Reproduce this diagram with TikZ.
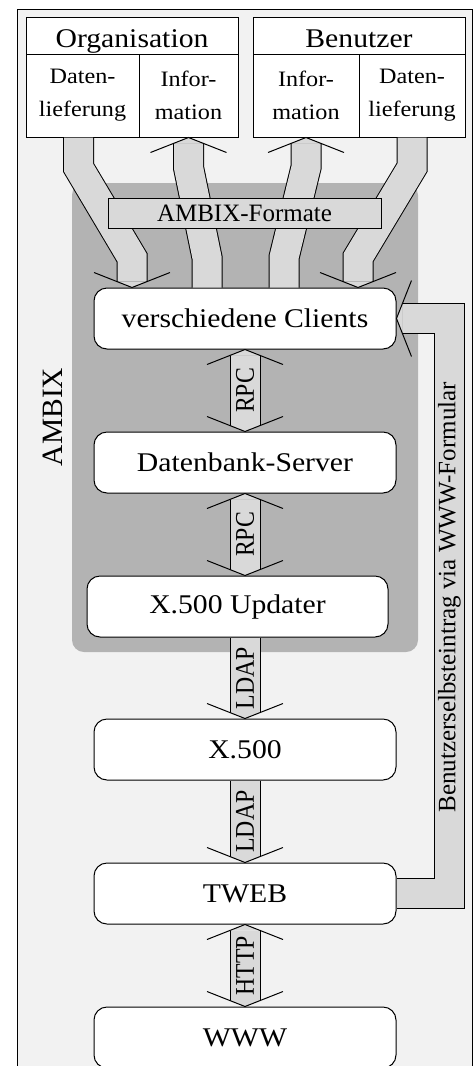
\documentclass[tikz,border=0pt]{standalone}
\usepackage{fontspec}
\setmainfont{Liberation Serif}
\newfontfamily\widefont[FakeStretch=1.1]{Liberation Serif}
\newfontfamily\narrowfont[FakeStretch=0.88]{Liberation Serif}
\usetikzlibrary{calc}
\definecolor{pipefill}{HTML}{D9D9D9}
\definecolor{ambixgray}{HTML}{B3B3B3}
\definecolor{framebg}{HTML}{F2F2F2}
\tikzset{
  flowbox/.style={draw, fill=white, rounded corners=13pt, minimum width=302pt, minimum height=61pt, inner sep=0pt, font=\widefont\fontsize{27}{30}\selectfont},
  headbox/.style={draw, fill=white, minimum height=37pt, inner sep=0pt, text height=25pt, text depth=2pt, font=\widefont\fontsize{27}{30}\selectfont},
  subbox/.style={draw, fill=white, minimum height=83pt, inner sep=0pt, align=center, font=\widefont\fontsize{22}{33}\selectfont},
  pipe/.style={double=pipefill, double distance=29pt, line width=1pt, line join=miter},
  proto/.style={rotate=90, inner sep=0pt, font=\narrowfont\fontsize{27}{27}\selectfont},
}
% open arrow head of a wide pipe, #2 = 0 points down
\newcommand{\pipetip}[2]{%
  \fill[pipefill, shift={(#1)}, rotate=#2] (-15,-6) -- (0,0) -- (15,-6) -- cycle;
  \draw[shift={(#1)}, rotate=#2] (-38,-15) -- (0,0) -- (38,-15);}
\begin{document}
\begin{tikzpicture}[x=1pt, y=-1pt, line width=1pt]
\useasboundingbox (0,0) rectangle (476,1066);
\draw[fill=framebg] (17,9) rectangle (472,1100);
% AMBIX area
\fill[ambixgray, rounded corners=12pt] (72,183) rectangle (418,652);
\node[rotate=90, inner sep=0pt, font=\fontsize{29.5}{30}\selectfont] (ambix) at (53,417) {AMBIX};

% sources and sinks
\node[headbox, minimum width=212pt] (org) at (132,35.5) {Organisation};
\node[subbox, minimum width=113pt] (orgdat) at (82.5,95.5) {Daten-\\lieferung};
\node[subbox, minimum width=99pt] (orginf) at (188.5,95.5) {Infor-\\mation};
\node[headbox, minimum width=212pt] (ben) at (359,35.5) {Benutzer};
\node[subbox, minimum width=106pt] (beninf) at (306,95.5) {Infor-\\mation};
\node[subbox, minimum width=106pt] (bendat) at (412,95.5) {Daten-\\lieferung};

% components
\node[flowbox] (cli) at (245,318.5) {verschiedene Clients};
\node[flowbox] (db) at (245,462.5) {Datenbank-Server};
\node[flowbox, minimum width=301pt] (upd) at (237.5,606.5) {X.500 Updater};
\node[flowbox] (xfh) at (245,749.5) {X.500};
\node[flowbox] (tweb) at (245,893.5) {TWEB};
\node[flowbox] (www) at (245,1037.5) {WWW};

\coordinate (in1) at ($(cli.north)+(-113,0)$);
\coordinate (out1) at ($(cli.north)+(-38,0)$);
\coordinate (out2) at ($(cli.north)+(39,0)$);
\coordinate (in2) at ($(cli.north)+(113,0)$);
\coordinate (updtop) at (upd.north -| db.south);
\coordinate (updbot) at (upd.south -| xfh.north);
\coordinate (fb1) at ($(tweb.east)+(53,0)$);
\coordinate (fb2) at (fb1 |- cli.east);

% data in and out
\draw[pipe, shorten >=6pt] ($(orgdat.south)+(-4,0)$) -- ++(0,30) -- ($(in1)+(0,-30)$) -- (in1);
\draw[pipe, shorten >=6pt] (bendat.south) -- ++(0,30) -- ($(in2)+(0,-30)$) -- (in2);
\draw[pipe, shorten >=6pt] (out1) -- ++(0,-30) -- ($(orginf.south)+(0,30)$) -- (orginf.south);
\draw[pipe, shorten >=6pt] (out2) -- ++(0,-30) -- ($(beninf.south)+(0,30)$) -- (beninf.south);

% protocols
\draw[pipe, shorten <=6pt, shorten >=6pt] (cli.south) -- node[proto] {RPC} (db.north);
\draw[pipe, shorten <=6pt, shorten >=6pt] (db.south) -- node[proto] {RPC} (updtop);
\draw[pipe, shorten >=6pt] (updbot) -- node[proto] {LDAP} (xfh.north);
\draw[pipe, shorten >=6pt] (xfh.south) -- node[proto] {LDAP} (tweb.north);
\draw[pipe, shorten <=6pt, shorten >=6pt] (tweb.south) -- node[proto] {HTTP} (www.north);
\draw[pipe, shorten >=6pt] (tweb.east) -- (fb1) -- node[proto, pos=0.515, font=\fontsize{25}{25}\selectfont] {Benutzerselbsteintrag via WWW-Formular} (fb2) -- (cli.east);

\foreach \t/\a in {in1/0, in2/0, orginf.south/180, beninf.south/180, db.north/0, cli.south/180,
  updtop/0, db.south/180, xfh.north/0, tweb.north/0, www.north/0, tweb.south/180, cli.east/-90}
  \pipetip{\t}{\a};

\node[draw, fill=pipefill, minimum width=273pt, minimum height=30pt, inner sep=0pt, font=\fontsize{25}{25}\selectfont] (fmt) at (244.5,213) {AMBIX-Formate};
\end{tikzpicture}
\end{document}
